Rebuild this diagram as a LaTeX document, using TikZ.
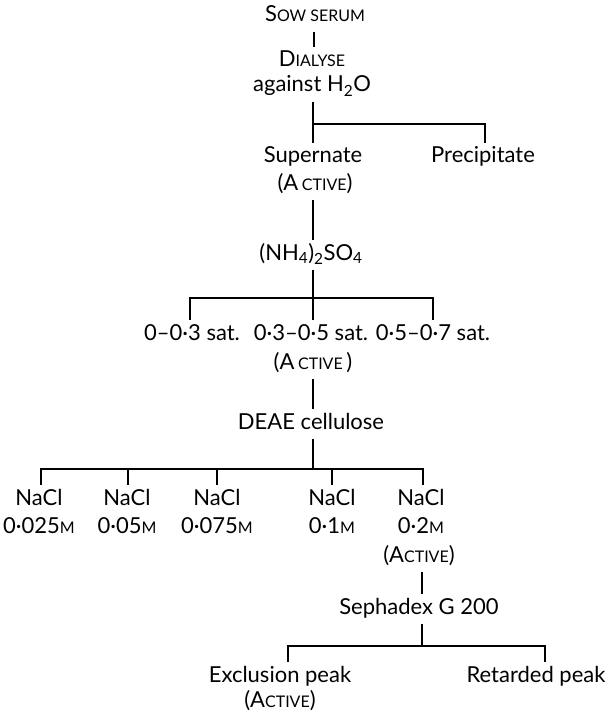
\documentclass[tikz,border=0pt]{standalone}
\usepackage{fontspec}
\setmainfont{Lato}
\newcommand\smc[1]{{\fontsize{16}{16}\selectfont #1}}
\tikzset{
  lbl/.style={anchor=base, inner xsep=0pt, inner ysep=6pt, text height=14pt, text depth=4pt, font=\fontsize{22}{24}\selectfont},
  conn/.style={line width=2.6pt, line cap=butt}
}
\begin{document}
\begin{tikzpicture}[x=1pt,y=-1pt]
\useasboundingbox (0,0) rectangle (609,714);
% nodes
\node[lbl] (sow) at (315,22) {S\smc{OW SERUM}};
\node[lbl] (dial) at (312,67) {D\smc{IALYSE}};
\node[lbl] (aga) at (312,92) {against H\textsubscript{2}O};
\node[lbl] (sup) at (313,163) {Supernate};
\node[lbl] (pre) at (483,163) {Precipitate};
\node[lbl] (act1) at (315,190) {(A\,\smc{CTIVE})};
\node[lbl] (amm) at (311,260) {(NH\textsubscript{4})\textsubscript{2}SO\textsubscript{4}};
\node[lbl] (s1) at (192,340) {0–0·3 sat.};
\node[lbl] (s2) at (311,340) {0·3–0·5 sat.};
\node[lbl] (s3) at (433,340) {0·5–0·7 sat.};
\node[lbl] (act2) at (313,369) {(A\,\smc{CTIVE}\,)};
\node[lbl] (deae) at (311,429) {DEAE cellulose};
\node[lbl] (n1) at (39,505) {NaCl};
\node[lbl] (n2) at (127,505) {NaCl};
\node[lbl] (n3) at (217,505) {NaCl};
\node[lbl] (n4) at (332,505) {NaCl};
\node[lbl] (n5) at (421,505) {NaCl};
\node[lbl] (m1) at (39,533) {0·025\smc{M}};
\node[lbl] (m2) at (127,533) {0·05\smc{M}};
\node[lbl] (m3) at (217,533) {0·075\smc{M}};
\node[lbl] (m4) at (332,533) {0·1\smc{M}};
\node[lbl] (m5) at (421,533) {0·2\smc{M}};
\node[lbl] (act3) at (419,562) {(A\smc{CTIVE})};
\node[lbl] (seph) at (419,614) {Sephadex G 200};
\node[lbl] (exc) at (280,682) {Exclusion peak};
\node[lbl] (ret) at (536,682) {Retarded peak};
\node[lbl] (act4) at (280,707) {(A\smc{CTIVE})};
% junction coordinates
\coordinate (j1) at (313,124);
\coordinate (j2) at (313,298);
\coordinate (j3) at (313,469);
\coordinate (j4) at (422,646);
% connectors
\draw[conn] (314,0 |- sow.south) coordinate (c0) -- (c0 |- dial.north);
\draw[conn] (j1 |- aga.south) -- (j1) -- (j1 |- sup.north);
\draw[conn] (j1) -- (485,124) coordinate (jp) -- (jp |- pre.north);
\draw[conn] (j1 |- act1.south) -- (j1 |- amm.north);
\draw[conn] (j2 |- amm.south) -- (j2) -- (j2 |- s2.north);
\draw[conn] (190,298) coordinate (k1) -- (433,298) coordinate (k3);
\draw[conn] (k1 |- 0,297) -- (k1 |- s1.north);
\draw[conn] (k3 |- 0,297) -- (k3 |- s3.north);
\draw[conn] (j2 |- act2.south) -- (j2 |- deae.north);
\draw[conn] (j3 |- deae.south) -- (j3);
\draw[conn] (41,469) coordinate (t1) -- (423,469) coordinate (t5);
\coordinate (t2) at (128,469);
\coordinate (t3) at (217,469);
\coordinate (t4) at (332,469);
\draw[conn] (t1 |- 0,468) -- (t1 |- n1.north);
\draw[conn] (t2 |- 0,468) -- (t2 |- n2.north);
\draw[conn] (t3 |- 0,468) -- (t3 |- n3.north);
\draw[conn] (t4 |- 0,468) -- (t4 |- n4.north);
\draw[conn] (t5 |- 0,468) -- (t5 |- n5.north);
\draw[conn] (j4 |- act3.south) -- (j4 |- seph.north);
\draw[conn] (j4 |- seph.south) -- (j4);
\draw[conn] (288,646) coordinate (e1) -- (545,646) coordinate (e2);
\draw[conn] (e1 |- 0,645) -- (e1 |- exc.north);
\draw[conn] (e2 |- 0,645) -- (e2 |- ret.north);
\end{tikzpicture}
\end{document}
